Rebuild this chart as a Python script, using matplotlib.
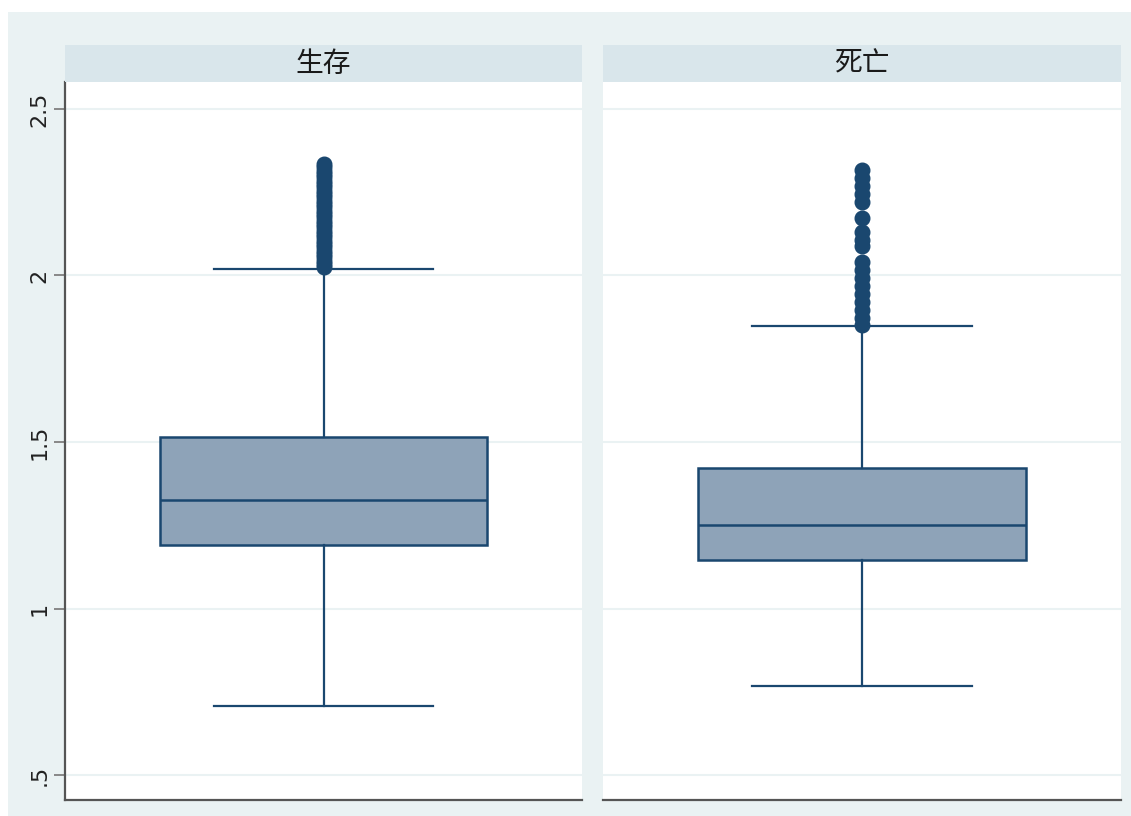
import matplotlib.pyplot as plt
from matplotlib.patches import Rectangle

# group labels
groups = ['生存', '死亡']

# box statistics
q1 = [1.19, 1.145]
med = [1.325, 1.252]
q3 = [1.515, 1.422]
whislo = [0.708, 0.767]
whishi = [2.02, 1.848]

# outside values
out_alive = [2.025, 2.035, 2.045, 2.055, 2.065, 2.075, 2.085, 2.095, 2.105,
             2.115, 2.125, 2.135, 2.145, 2.155, 2.165, 2.175, 2.185, 2.195,
             2.205, 2.215, 2.225, 2.235, 2.245, 2.255, 2.265, 2.275, 2.285,
             2.295, 2.305, 2.315, 2.325, 2.335]
out_dead = [1.851, 1.872, 1.896, 1.920, 1.944, 1.968, 1.992, 2.017, 2.041,
            2.089, 2.107, 2.131, 2.173, 2.221, 2.245, 2.269, 2.293, 2.317]
outliers = [out_alive, out_dead]

yticks = [0.5, 1, 1.5, 2, 2.5]
ytick_labels = ['.5', '1', '1.5', '2', '2.5']

navy = '#1a476f'
fill = '#8ea3b8'
bg = '#eaf2f3'
strip = '#d9e6eb'
W, H = 1131, 816

fig = plt.figure(figsize=(W / 100, H / 100), dpi=100)
fig.patches.append(Rectangle((8 / W, 0), 1, 1 - 12 / H, transform=fig.transFigure,
                             facecolor=bg, edgecolor='none', zorder=-10))

panels = [(65, 582), (603, 1121)]
for i, (x0, x1) in enumerate(panels):
    ax = fig.add_axes([x0 / W, 16 / H, (x1 - x0) / W, (800 - 82) / H])
    ax.set_facecolor('white')
    stats = [dict(med=med[i], q1=q1[i], q3=q3[i], whislo=whislo[i],
                  whishi=whishi[i], fliers=outliers[i])]
    ax.bxp(stats, positions=[0.5], widths=0.634, capwidths=0.4255,
           patch_artist=True, showfliers=True,
           boxprops=dict(facecolor=fill, edgecolor=navy, linewidth=1.8),
           medianprops=dict(color=navy, linewidth=1.8),
           whiskerprops=dict(color=navy, linewidth=1.6),
           capprops=dict(color=navy, linewidth=1.6),
           flierprops=dict(marker='o', markersize=10.5, markerfacecolor=navy,
                           markeredgecolor=navy))
    ax.set_xlim(0, 1)
    ax.set_ylim(0.425, 2.581)
    ax.set_xticks([])
    ax.set_yticks(yticks)
    ax.grid(axis='y', color=bg, linewidth=1.5)
    ax.set_axisbelow(True)
    for s in ['top', 'right']:
        ax.spines[s].set_visible(False)
    ax.spines['bottom'].set_color('#555555')
    ax.spines['bottom'].set_linewidth(1.6)
    if i == 0:
        ax.spines['left'].set_color('#555555')
        ax.spines['left'].set_linewidth(1.6)
        ax.set_yticklabels(ytick_labels, rotation=90, va='center', fontsize=16,
                           color='#222222')
        ax.tick_params(axis='y', length=8, width=1.4, color='#888888', pad=3)
    else:
        ax.spines['left'].set_visible(False)
        ax.tick_params(axis='y', length=0, labelleft=False)
    # strip header
    sax = fig.add_axes([x0 / W, (816 - 82) / H, (x1 - x0) / W, 37 / H])
    sax.set_facecolor(strip)
    sax.set_xticks([])
    sax.set_yticks([])
    for s in sax.spines.values():
        s.set_visible(False)
    sax.text(0.5, 0.5, groups[i], ha='center', va='center', fontsize=20,
             family=['Noto Sans CJK SC', 'DejaVu Sans'], color='#1a1a1a')

fig.savefig('out.png', dpi=100)
